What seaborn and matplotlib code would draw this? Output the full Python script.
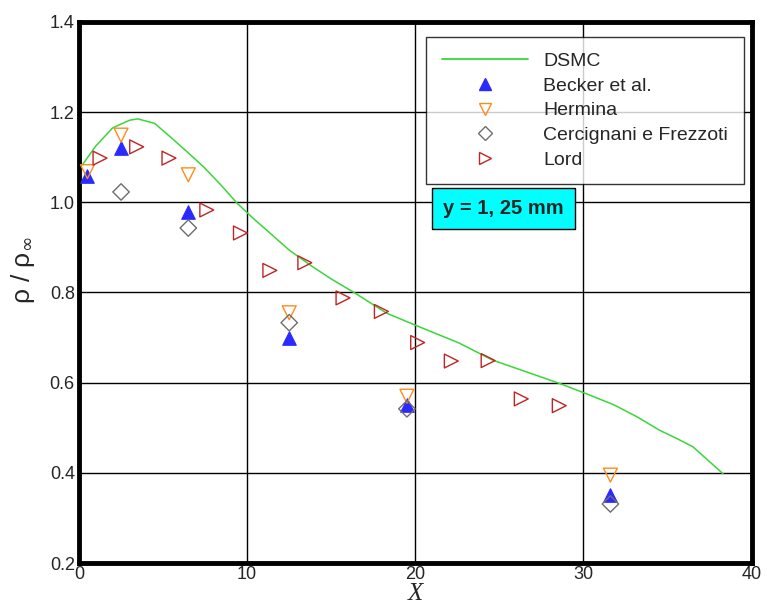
import numpy as np
import pandas as pd
import matplotlib
matplotlib.use("Agg")
import matplotlib.pyplot as plt
from matplotlib.lines import Line2D
from matplotlib.ticker import MultipleLocator
import seaborn as sns

sns.set_style("white")
plt.rcParams['font.family'] = ['Liberation Sans', 'DejaVu Sans']

# DSMC curve
dsmc_x = [0.2, 1.0, 2.0, 3.0, 3.5, 4.5, 5.4, 6.4, 7.4, 8.4, 9.4, 10.4, 11.35, 12.5, 13.9,
          15.0, 16.4, 18.3, 20.1, 22.6, 24.6, 26.6, 28.6, 30.2, 31.8, 33.2, 34.5, 35.5, 36.5, 37.4, 38.3]
dsmc_y = [1.083, 1.125, 1.165, 1.182, 1.185, 1.175, 1.146, 1.113, 1.079, 1.040, 0.998, 0.963, 0.932,
          0.894, 0.857, 0.830, 0.799, 0.754, 0.726, 0.688, 0.650, 0.624, 0.598, 0.575, 0.551, 0.524,
          0.495, 0.477, 0.458, 0.428, 0.398]

becker_x = [0.5, 2.5, 6.5, 12.5, 19.5, 31.6]
becker_y = [1.058, 1.120, 0.979, 0.700, 0.550, 0.350]

hermina_x = [0.5, 2.5, 6.5, 12.5, 19.5, 31.6]
hermina_y = [1.068, 1.149, 1.061, 0.755, 0.570, 0.395]

cerc_x = [2.5, 6.5, 12.5, 19.5, 31.6]
cerc_y = [1.023, 0.943, 0.733, 0.542, 0.331]

lord_x = [1.25, 3.43, 5.35, 7.6, 9.6, 11.35, 13.43, 15.7, 17.98, 20.14, 22.14, 24.33, 26.3, 28.56]
lord_y = [1.098, 1.123, 1.098, 0.983, 0.932, 0.849, 0.866, 0.788, 0.758, 0.689, 0.648, 0.649, 0.564, 0.549]

legend_labels = ["DSMC", "Becker et al.", "Hermina", "Cercignani e Frezzoti", "Lord"]

c_green = "#3ad63a"
c_blue = "#2a2aff"
c_orange = "#ff8c1a"
c_gray = "#6e6e6e"
c_red = "#c02424"

fig = plt.figure(figsize=(7.67, 6.10), dpi=100)
ax = fig.add_axes([0.103, 0.077, 0.877, 0.887])

sns.lineplot(x=dsmc_x, y=dsmc_y, ax=ax, color=c_green, linewidth=1.1, sort=False, zorder=3)

sns.scatterplot(x=becker_x, y=becker_y, ax=ax, marker="^", s=95, color=c_blue,
                edgecolor=c_blue, linewidth=0.8, zorder=4)
sns.scatterplot(x=hermina_x, y=hermina_y, ax=ax, marker="v", s=100, facecolor="none",
                edgecolor=c_orange, linewidth=1.0, zorder=4)
sns.scatterplot(x=cerc_x, y=cerc_y, ax=ax, marker="D", s=70, facecolor="none",
                edgecolor=c_gray, linewidth=1.0, zorder=4)
sns.scatterplot(x=lord_x, y=lord_y, ax=ax, marker=">", s=100, facecolor="none",
                edgecolor=c_red, linewidth=1.0, zorder=4)

ax.set_xlim(0, 40)
ax.set_ylim(0.2, 1.4)
ax.xaxis.set_major_locator(MultipleLocator(10))
ax.xaxis.set_minor_locator(MultipleLocator(2))
ax.yaxis.set_minor_locator(MultipleLocator(0.04))
ax.set_yticks([0.2, 0.4, 0.6, 0.8, 1.0, 1.2, 1.4])
ax.set_yticklabels(["0.2", "0.4", "0.6", "0.8", "1.0", "1.2", "1.4"])
ax.tick_params(axis='both', which='major', direction='in', length=8, width=1,
               labelsize=13, pad=3, color='black')
ax.tick_params(axis='x', which='major', pad=2)
ax.tick_params(axis='both', which='minor', direction='in', length=4, width=1, color='black')
ax.grid(True, which='major', color='black', linewidth=1.0, zorder=0)
ax.set_axisbelow(True)
for sp in ax.spines.values():
    sp.set_color('black')
    sp.set_linewidth(3.5)

ax.set_xlabel("X", fontsize=18, family="Liberation Serif", style="italic", labelpad=0)
ax.set_ylabel("ρ / ρ$_{\\infty}$", fontsize=19)
ax.yaxis.set_label_coords(-0.062, 0.542)

handles = [
    Line2D([], [], color=c_green, lw=1.3),
    Line2D([], [], marker="^", ls="none", color=c_blue, ms=9),
    Line2D([], [], marker="v", ls="none", mfc="none", mec=c_orange, ms=9, mew=1),
    Line2D([], [], marker="D", ls="none", mfc="none", mec=c_gray, ms=7.5, mew=1),
    Line2D([], [], marker=">", ls="none", mfc="none", mec=c_red, ms=9, mew=1),
]
leg = ax.legend(handles, legend_labels, loc="upper right", bbox_to_anchor=(0.988, 0.972),
                fontsize=14, handlelength=4.4, handletextpad=0.8, labelspacing=0.36,
                frameon=True, fancybox=False, borderpad=0.8, borderaxespad=0)
leg.get_frame().set_edgecolor("black")
leg.get_frame().set_linewidth(1.0)
leg.set_zorder(10)

ax.text(0.541, 0.656, "y = 1, 25 mm", transform=ax.transAxes, fontsize=14.5,
        fontweight="bold", va="center", ha="left", zorder=11,
        bbox=dict(boxstyle="square,pad=0.55", facecolor="#00ffff", edgecolor="black", linewidth=1.0))

fig.savefig("out.png", dpi=100)
